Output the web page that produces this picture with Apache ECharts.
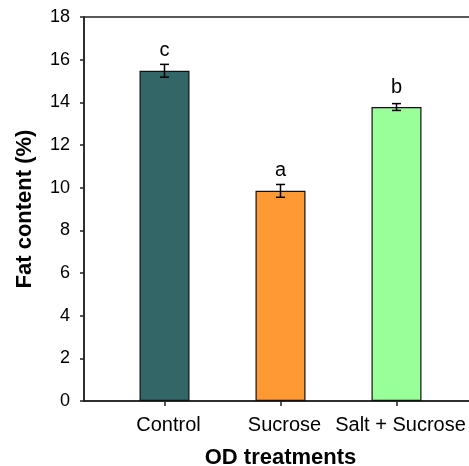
<!DOCTYPE html>
<html>
<head>
<meta charset="utf-8">
<script src="https://cdn.jsdelivr.net/npm/echarts@6/dist/echarts.min.js"></script>
<style>html,body{margin:0;padding:0;background:#fff}#c{width:469px;height:466px}</style>
</head>
<body>
<div id="c"></div>
<script>
var categories = ['Control', 'Sucrose', 'Salt + Sucrose'];
var fatContent = [15.48, 9.85, 13.78];
var errorSE = [0.3, 0.3, 0.16];
var sigLetters = ['c', 'a', 'b'];
var barColors = ['#336666', '#ff9933', '#99ff99'];
var yTicks = [0, 2, 4, 6, 8, 10, 12, 14, 16, 18];

var positions = categories.map(function (c, i) { return i + 1; });
var barData = fatContent.map(function (v, i) {
  return { value: [positions[i], v], itemStyle: { color: barColors[i] } };
});
var errData = fatContent.map(function (v, i) {
  return [positions[i], v - errorSE[i], v + errorSE[i], v, i];
});

var chart = echarts.init(document.getElementById('c'), null, { renderer: 'canvas' });
var FONT = 'Liberation Sans, Arial, sans-serif';
chart.setOption({
  animation: false,
  grid: { left: 84, top: 17, bottom: 65, width: 393, outerBoundsMode: 'none', containLabel: false,
    show: true, borderColor: '#222', borderWidth: 1.5, backgroundColor: 'transparent' },
  xAxis: {
    type: 'value', min: 0.306, max: 3.694,
    name: 'OD treatments', nameLocation: 'middle', nameGap: 46,
    nameTextStyle: { fontFamily: FONT, fontSize: 22, fontWeight: 'bold', color: '#000' },
    axisLine: { show: true, lineStyle: { color: '#222', width: 1.5 } },
    axisTick: { show: true, customValues: positions, length: 5, lineStyle: { color: '#222', width: 1.5 } },
    axisLabel: {
      customValues: positions, margin: 14, fontFamily: FONT, fontSize: 20, color: '#000',
      padding: [0, 0, 0, 8], hideOverlap: false,
      formatter: function (v) { return categories[Math.round(v) - 1] || ''; }
    },
    splitLine: { show: false }
  },
  yAxis: {
    type: 'value', min: 0, max: 18, interval: 2,
    name: 'Fat content (%)', nameLocation: 'middle', nameGap: 48,
    nameTextStyle: { fontFamily: FONT, fontSize: 22, fontWeight: 'bold', color: '#000' },
    axisLine: { show: true, lineStyle: { color: '#222', width: 1.5 } },
    axisTick: { show: true, length: 4, lineStyle: { color: '#222', width: 1.5 } },
    axisLabel: { margin: 14, fontFamily: FONT, fontSize: 18, color: '#000',
      formatter: function (v) { return yTicks.indexOf(v) >= 0 ? String(v) : ''; } },
    splitLine: { show: false }
  },
  series: [
    {
      type: 'bar', data: barData, barWidth: 50,
      itemStyle: { borderColor: '#111', borderWidth: 1.2 }
    },
    {
      type: 'custom', data: errData, z: 5,
      renderItem: function (params, api) {
        var x = api.value(0);
        var lo = api.coord([x, api.value(1)]);
        var hi = api.coord([x, api.value(2)]);
        var top = api.coord([x, api.value(3)]);
        var idx = api.value(4);
        var cw = 4.5;
        var st = { stroke: '#000', lineWidth: 1.5 };
        return {
          type: 'group',
          children: [
            { type: 'line', shape: { x1: lo[0], y1: lo[1], x2: hi[0], y2: hi[1] }, style: st },
            { type: 'line', shape: { x1: lo[0] - cw, y1: lo[1], x2: lo[0] + cw, y2: lo[1] }, style: st },
            { type: 'line', shape: { x1: hi[0] - cw, y1: hi[1], x2: hi[0] + cw, y2: hi[1] }, style: st },
            { type: 'text', style: { text: sigLetters[idx], x: top[0], y: top[1] - 20, align: 'center', verticalAlign: 'middle',
              font: '20px ' + FONT, fill: '#000' } }
          ]
        };
      }
    }
  ]
});
</script>
</body>
</html>
